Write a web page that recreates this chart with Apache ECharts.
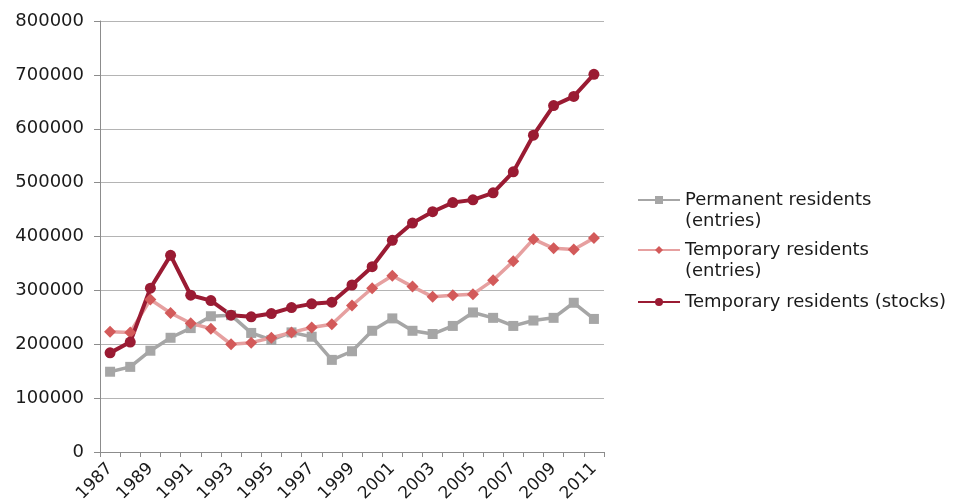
<!DOCTYPE html>
<html>
<head>
<meta charset="utf-8">
<script src="https://cdn.jsdelivr.net/npm/echarts@6/dist/echarts.min.js"></script>
<style>
  html, body { margin: 0; padding: 0; background: #fff; }
  #chart { width: 957px; height: 502px; }
</style>
</head>
<body>
<div id="chart"></div>
<script>
// data
const years = ['1987', '1988', '1989', '1990', '1991', '1992', '1993', '1994', '1995', '1996', '1997', '1998', '1999',
  '2000', '2001', '2002', '2003', '2004', '2005', '2006', '2007', '2008', '2009', '2010', '2011']
const permanentEntries = [149000, 158000, 188000, 212000, 230000, 252000, 254000, 221000, 208000, 222000, 214000, 171000, 187000,
  225000, 248000, 225000, 219000, 234000, 259000, 249000, 234000, 244000, 249000, 277000, 247000]
const temporaryEntries = [223000, 222000, 283000, 258000, 239000, 229000, 200000, 203000, 212000, 222000, 231000, 237000, 272000,
  304000, 327000, 307000, 288000, 291000, 293000, 319000, 354000, 395000, 378000, 376000, 397000]
const temporaryStocks = [184000, 204000, 304000, 365000, 291000, 281000, 254000, 251000, 257000, 268000, 275000, 278000, 310000,
  344000, 393000, 425000, 446000, 463000, 468000, 481000, 520000, 588000, 643000, 660000, 701000]

const names = ['Permanent residents\n(entries)', 'Temporary residents\n(entries)', 'Temporary residents (stocks)']
const fontFamily = '"DejaVu Sans", "Liberation Sans", sans-serif'

const chart = echarts.init(document.getElementById('chart'))

// one legend per entry so each can be placed on its own;
// a blank first line keeps the icon level with the first line of a two-line name
const legendItem = (name, top, twoLines) => ({
  data: [name],
  left: 637,
  top: top,
  padding: 0,
  itemWidth: 42,
  itemHeight: 10,
  formatter: n => (twoLines ? ' \n' + n : n),
  textStyle: {
    fontFamily,
    fontSize: 18,
    color: '#1a1a1a',
    lineHeight: 21
  }
})

chart.setOption({
  animation: false,
  grid: { left: 100, right: 353, top: 21, bottom: 50, outerBoundsMode: 'none', containLabel: false },
  legend: [
    legendItem(names[0], 168.5, true),
    legendItem(names[1], 218.5, true),
    legendItem(names[2], 291.5, false)
  ],
  xAxis: {
    type: 'category',
    data: years,
    boundaryGap: true,
    axisLine: { lineStyle: { color: '#8c8c8c', width: 1 } },
    axisTick: { show: true, interval: 0, length: 5, lineStyle: { color: '#8c8c8c' } },
    axisLabel: {
      interval: 1,
      rotate: 45,
      margin: 14,
      fontFamily,
      fontSize: 17,
      color: '#1a1a1a'
    },
    splitLine: { show: false }
  },
  yAxis: {
    type: 'value',
    min: 0,
    max: 800000,
    interval: 100000,
    axisLine: { show: true, lineStyle: { color: '#8c8c8c', width: 1 } },
    axisTick: { show: true, length: 6, lineStyle: { color: '#8c8c8c' } },
    axisLabel: { margin: 16, fontFamily, fontSize: 18, color: '#1a1a1a', formatter: v => String(v) },
    splitLine: { lineStyle: { color: '#b4b4b4', width: 1 } }
  },
  series: [
    {
      name: names[0],
      type: 'line',
      data: permanentEntries,
      symbol: 'rect',
      symbolSize: 10,
      lineStyle: { color: '#a6a6a6', width: 3.5 },
      itemStyle: { color: '#a6a6a6' }
    },
    {
      name: names[1],
      type: 'line',
      data: temporaryEntries,
      symbol: 'diamond',
      symbolSize: 12,
      lineStyle: { color: '#e6a0a0', width: 3.5 },
      itemStyle: { color: '#d35a5a' }
    },
    {
      name: names[2],
      type: 'line',
      data: temporaryStocks,
      symbol: 'circle',
      symbolSize: 11,
      lineStyle: { color: '#9a1b33', width: 4 },
      itemStyle: { color: '#9a1b33' }
    }
  ]
})
</script>
</body>
</html>
